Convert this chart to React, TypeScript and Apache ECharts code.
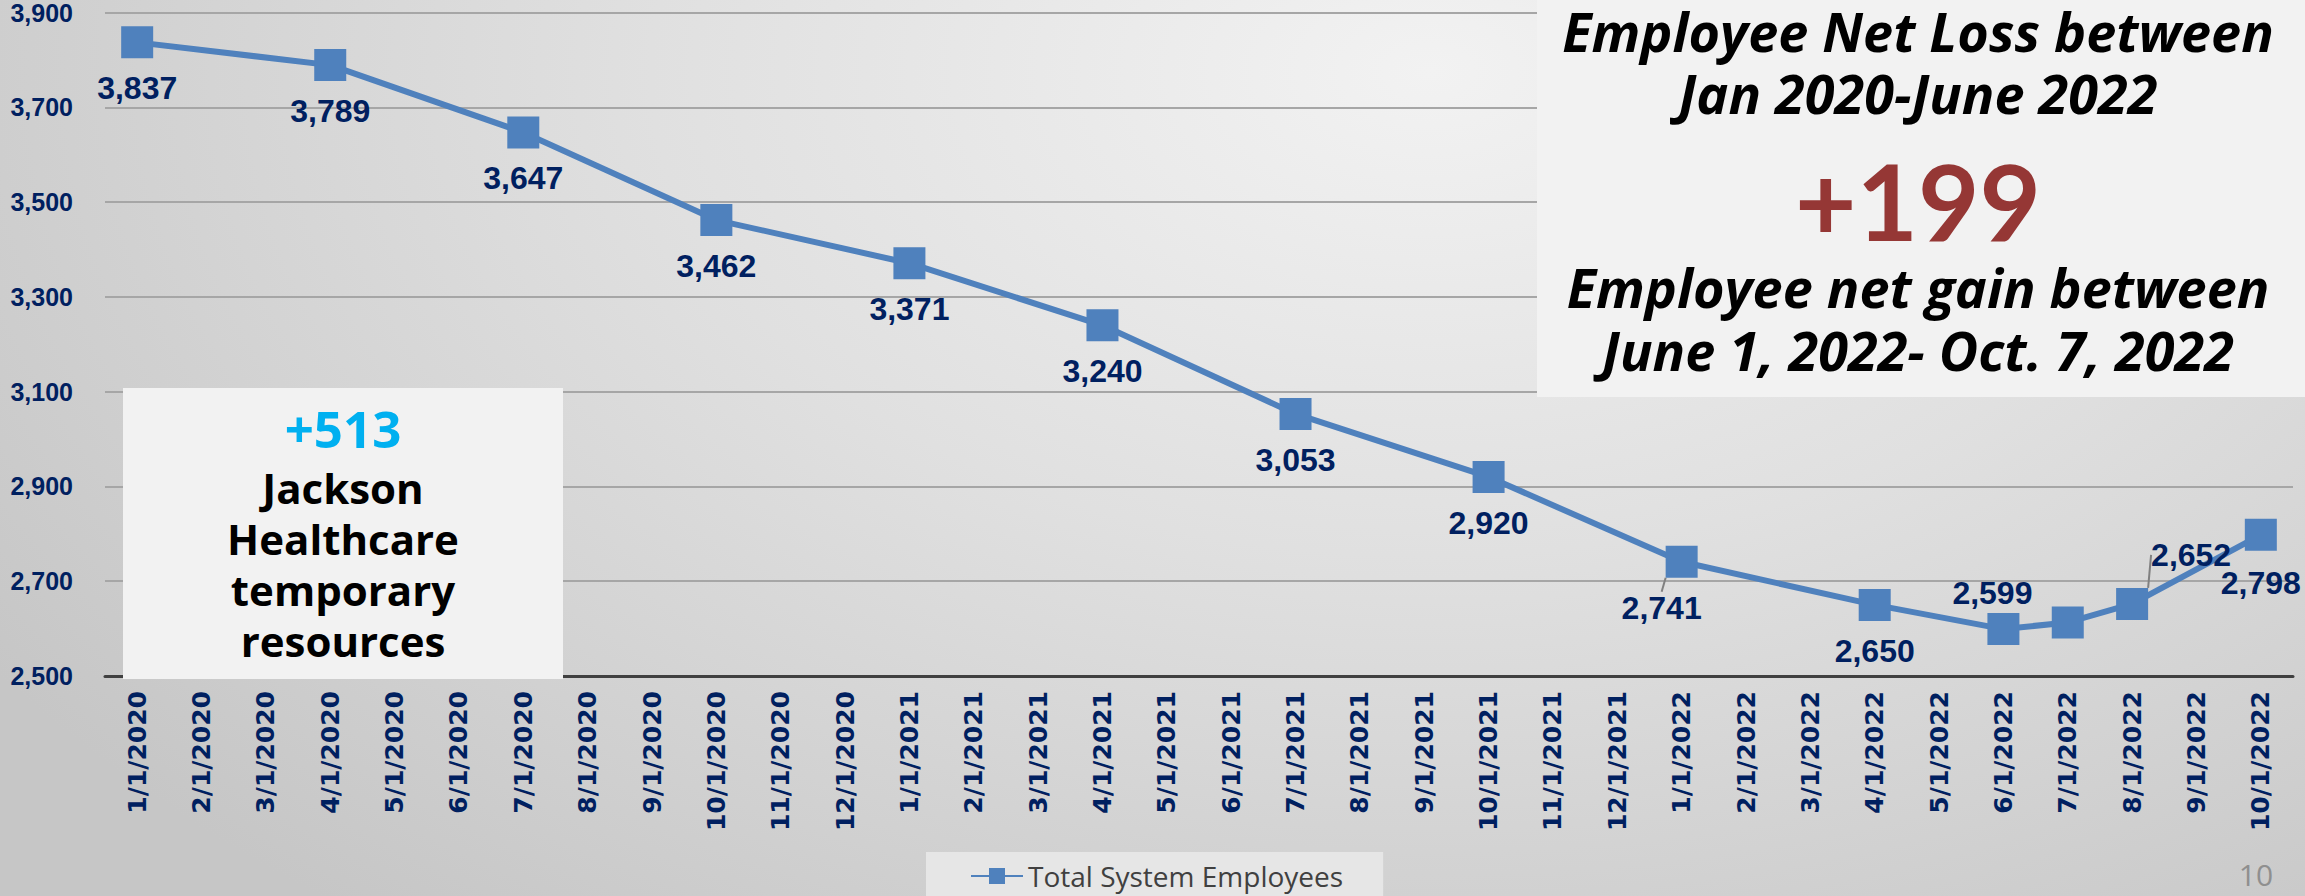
import React, { useEffect, useRef } from 'react';
import * as echarts from 'echarts';

const months = [
  '1/1/2020', '2/1/2020', '3/1/2020', '4/1/2020', '5/1/2020', '6/1/2020',
  '7/1/2020', '8/1/2020', '9/1/2020', '10/1/2020', '11/1/2020', '12/1/2020',
  '1/1/2021', '2/1/2021', '3/1/2021', '4/1/2021', '5/1/2021', '6/1/2021',
  '7/1/2021', '8/1/2021', '9/1/2021', '10/1/2021', '11/1/2021', '12/1/2021',
  '1/1/2022', '2/1/2022', '3/1/2022', '4/1/2022', '5/1/2022', '6/1/2022',
  '7/1/2022', '8/1/2022', '9/1/2022', '10/1/2022',
];

const pointDates = [
  '1/1/2020', '4/1/2020', '7/1/2020', '10/1/2020', '1/1/2021', '4/1/2021',
  '7/1/2021', '10/1/2021', '1/1/2022', '4/1/2022', '6/1/2022', '7/1/2022',
  '8/1/2022', '10/1/2022',
];
const employees = [3837, 3789, 3647, 3462, 3371, 3240, 3053, 2920, 2741, 2650, 2599, 2613, 2652, 2798];
const unlabelledDates = ['7/1/2022'];

const yTicks = [2500, 2700, 2900, 3100, 3300, 3500, 3700, 3900];
const seriesName = 'Total System Employees';
const lossLines = ['Employee Net Loss between', 'Jan 2020-June 2022'];
const netGain = '+199';
const gainLines = ['Employee net gain between', 'June 1, 2022- Oct. 7, 2022'];
const tempCount = '+513';
const tempLines = ['Jackson', 'Healthcare', 'temporary', 'resources'];
const pageNumber = '10';

// label placement (style, px offsets from marker centre)
const defaultOffset: [number, number] = [0, 46];
const labelOffsets: Record<string, [number, number]> = {
  '1/1/2022': [-20, 46],
  '6/1/2022': [-11, -36],
  '8/1/2022': [59, -49],
  '10/1/2022': [0, 48],
};
const guideLineDates = ['1/1/2022', '8/1/2022'];

const NAVY = '#002060';
const fmt = (v: number) => v.toLocaleString('en-US');

export default function App() {
  const ref = useRef<HTMLDivElement>(null);

  useEffect(() => {
    if (!ref.current) return;
    const chart = echarts.init(ref.current, undefined, { renderer: 'svg' });

    const seriesData = months.map((m) => {
      const idx = pointDates.indexOf(m);
      if (idx < 0) return null;
      const hidden = unlabelledDates.includes(m);
      return {
        value: employees[idx],
        label: { show: !hidden },
        labelLine: { show: guideLineDates.includes(m) },
      };
    });

    const boxFont = "'Open Sans', 'DejaVu Sans', sans-serif";
    const txt = (x: number, y: number, text: string, fill: string, size: number, extra: string, family = boxFont) => ({
      type: 'text', z: 11, x, y, silent: true,
      style: {
        text, fill, font: `${extra} ${size}px ${family}`, lineHeight: size,
        align: 'center', verticalAlign: 'middle',
      },
    });

    const graphics: any[] = [
      {
        type: 'rect', z: 10, silent: true,
        shape: { x: 1537, y: 0, width: 768, height: 397 },
        style: { fill: '#f2f2f2' },
      },
      {
        type: 'rect', z: 10, silent: true,
        shape: { x: 123, y: 388, width: 440, height: 291 },
        style: { fill: '#f2f2f2' },
      },
    ];
    const rightX = 1918;
    const lossYs = [31, 93];
    lossLines.forEach((t, i) => graphics.push(txt(rightX, lossYs[i], t, '#000', 54, 'italic bold')));
    graphics.push(txt(rightX, 200, netGain, '#953735', 106, 'bold', `'Lato', ${boxFont}`));
    const gainYs = [287, 350];
    gainLines.forEach((t, i) => graphics.push(txt(rightX, gainYs[i], t, '#000', 54, 'italic bold')));
    graphics.push(txt(343, 428, tempCount, '#00b0f0', 51, 'bold'));
    const tempYs = [487, 538, 589, 640];
    tempLines.forEach((t, i) => graphics.push(txt(343, tempYs[i], t, '#000', 42, 'bold')));
    graphics.push(txt(2256, 874, pageNumber, '#8f8f8f', 30, 'normal'));

    chart.setOption({
      animation: false,
      backgroundColor: 'transparent',
      grid: { left: 105, right: 12, top: 12, bottom: 220, containLabel: false },
      legend: {
        data: [seriesName],
        left: 926,
        top: 852,
        padding: [10, 40, 16, 44],
        backgroundColor: '#e6e6e6',
        itemWidth: 52,
        itemHeight: 20,
        textStyle: { color: '#404040', fontSize: 28, fontFamily: boxFont },
      },
      xAxis: {
        type: 'category',
        data: months,
        boundaryGap: true,
        axisLine: { lineStyle: { color: '#404040', width: 3 } },
        axisTick: { show: false },
        axisLabel: {
          interval: 0,
          rotate: 90,
          margin: 15,
          color: NAVY,
          fontSize: 25,
          fontWeight: 'bold',
          fontFamily: "'DejaVu Sans', Verdana, sans-serif",
        },
        splitLine: { show: false },
      },
      yAxis: {
        type: 'value',
        min: 2500,
        max: 3900,
        interval: 100,
        axisLine: { show: false },
        axisTick: { show: false },
        axisLabel: {
          margin: 32,
          color: NAVY,
          fontSize: 25,
          fontWeight: 'bold',
          fontFamily: "'Liberation Sans', Arial, sans-serif",
          formatter: (v: number) => (yTicks.includes(v) ? fmt(v) : ''),
        },
        splitLine: { show: true, lineStyle: { color: ['#a6a6a6', 'rgba(0,0,0,0)'], width: 2 } },
      },
      series: [
        {
          name: seriesName,
          type: 'line',
          data: seriesData,
          connectNulls: true,
          symbol: 'rect',
          symbolSize: 32,
          lineStyle: { color: '#4f81bd', width: 6 },
          itemStyle: { color: '#4f81bd' },
          z: 3,
          label: {
            show: true,
            position: 'inside',
            color: NAVY,
            fontSize: 32,
            fontWeight: 'bold',
            fontFamily: "'Liberation Sans', Arial, sans-serif",
            formatter: (p: any) => fmt(Number(p.value)),
          },
          labelLine: { show: false, lineStyle: { color: '#808080', width: 2 } },
          labelLayout: (params: any) => {
            const m = months[params.dataIndex];
            const off = labelOffsets[m] || defaultOffset;
            return { dx: off[0], dy: off[1] };
          },
        },
      ],
      graphic: graphics,
    });

    return () => chart.dispose();
  }, []);

  return (
    <div
      style={{
        position: 'absolute',
        left: 0,
        top: 0,
        width: 2305,
        height: 896,
        background:
          'radial-gradient(ellipse 75% 120% at 62% 8%, #f2f2f2 0%, #e0e0e0 45%, #c6c6c6 100%)',
      }}
    >
      <div ref={ref} style={{ width: 2305, height: 896 }} />
    </div>
  );
}
